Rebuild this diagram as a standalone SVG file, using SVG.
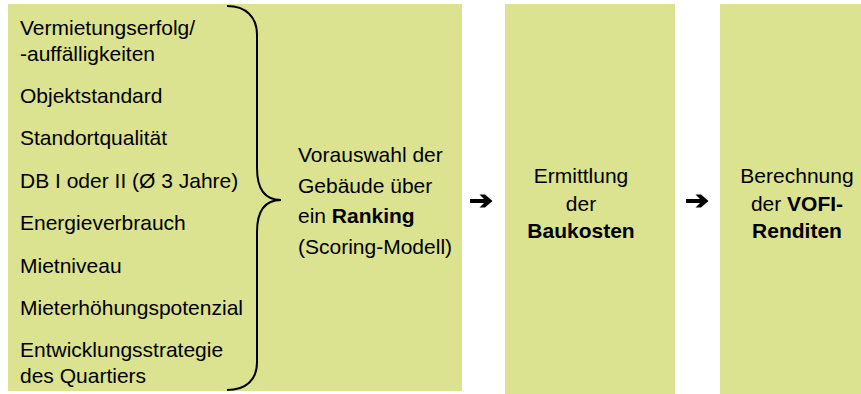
<svg xmlns="http://www.w3.org/2000/svg" width="861" height="394" viewBox="0 0 861 394">
  <defs>
    <style>
      .box { fill: #DBE290; }
      .t { font-family: "Liberation Sans", Arial, sans-serif; font-size: 21px; fill: #000; }
      .c { text-anchor: middle; }
      .b { font-weight: bold; }
      .brace { fill: none; stroke: #000; stroke-width: 2; }
      .arrow { fill: #000; }
    </style>
    <!-- bold right arrow used between process steps -->
    <polygon id="stepArrow" class="arrow" points="0,2 14,2 9.5,-2.5 15,-2.5 22.5,4 15,10.5 9.5,10.5 14,6 0,6"/>
  </defs>

  <!-- Step 1: selection criteria and ranking -->
  <g id="node-preselection">
    <rect class="box" x="8" y="4" width="454" height="387"/>
    <text class="t" x="20" y="35">Vermietungserfolg/</text>
    <text class="t" x="20" y="61">-auffälligkeiten</text>
    <text class="t" x="20" y="103">Objektstandard</text>
    <text class="t" x="20" y="145">Standortqualität</text>
    <text class="t" x="20" y="188">DB I oder II (Ø 3 Jahre)</text>
    <text class="t" x="20" y="230">Energieverbrauch</text>
    <text class="t" x="20" y="273">Mietniveau</text>
    <text class="t" x="20" y="315">Mieterhöhungspotenzial</text>
    <text class="t" x="20" y="357">Entwicklungsstrategie</text>
    <text class="t" x="20" y="383">des Quartiers</text>
    <path class="brace" d="M227,6 C246,6 257,17 257,35 L257,168 C257,190 266,200 281,200 C266,200 257,210 257,232 L257,362 C257,380 246,390 227,390"/>
    <text class="t" x="298" y="162">Vorauswahl der</text>
    <text class="t" x="298" y="193">Gebäude über</text>
    <text class="t" x="298" y="223">ein <tspan class="b">Ranking</tspan></text>
    <text class="t" x="298" y="254">(Scoring-Modell)</text>
  </g>

  <!-- Step 2: construction costs -->
  <g id="node-baukosten">
    <rect class="box" x="505" y="4" width="170" height="390"/>
    <text class="t c" x="581" y="183">Ermittlung</text>
    <text class="t c" x="581" y="211">der</text>
    <text class="t c b" x="581" y="238">Baukosten</text>
  </g>

  <!-- Step 3: VOFI returns -->
  <g id="node-vofi">
    <rect class="box" x="720" y="4" width="141" height="390"/>
    <text class="t c" x="797" y="183">Berechnung</text>
    <text class="t c" x="797" y="211">der <tspan class="b">VOFI-</tspan></text>
    <text class="t c b" x="797" y="238">Renditen</text>
  </g>

  <!-- Connectors between steps -->
  <g id="connectors">
    <use href="#stepArrow" x="470" y="197"/>
    <use href="#stepArrow" x="686" y="197"/>
  </g>
</svg>
